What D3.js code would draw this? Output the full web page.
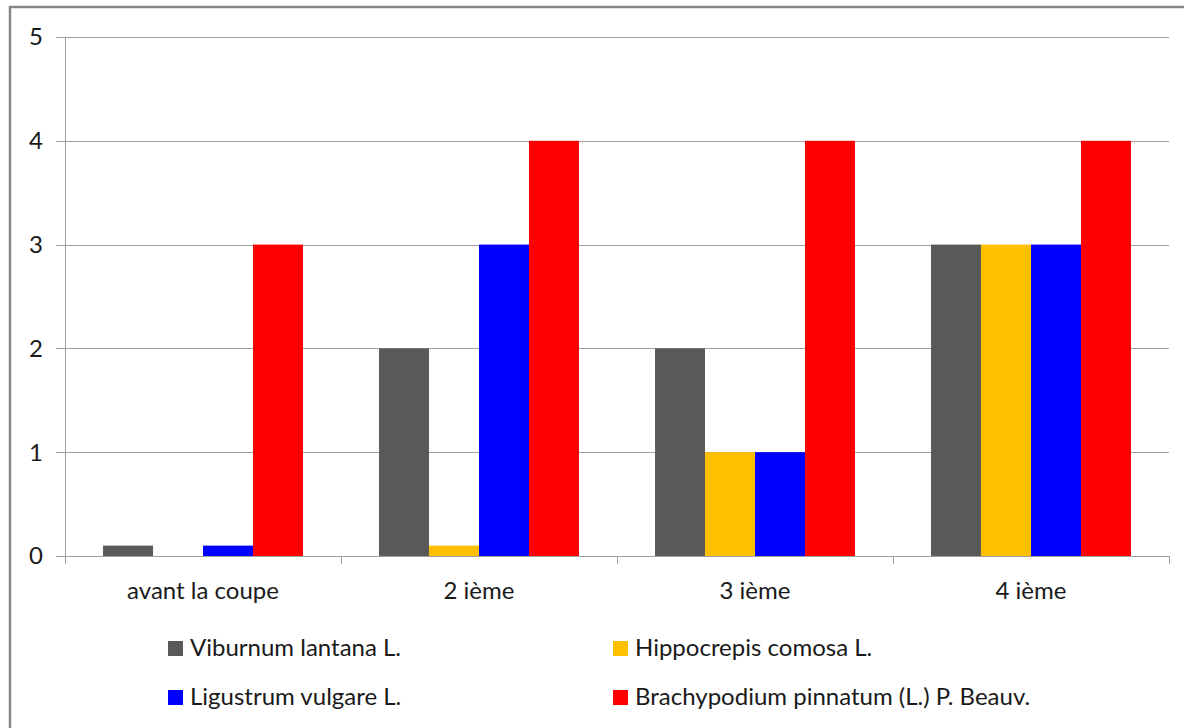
<!DOCTYPE html>
<html><head><meta charset="utf-8">
<script src="https://cdn.jsdelivr.net/npm/d3@7"></script>
<style>body{margin:0;background:#fff}svg{display:block}text{font-family:Lato,"Open Sans",sans-serif;fill:#1a1a1a}</style>
</head><body><svg id="c" width="1184" height="728"></svg>
<script>
const categories = ["avant la coupe","2 ième","3 ième","4 ième"];
const seriesNames = ["Viburnum lantana L.","Hippocrepis comosa L.","Ligustrum vulgare L.","Brachypodium pinnatum (L.) P. Beauv."];
const colors = ["#595959","#FFC000","#0000FF","#FF0000"];
const viburnum = [0.1,2,2,3];
const hippocrepis = [0,0.1,1,3];
const ligustrum = [0.1,3,1,3];
const brachypodium = [3,4,4,4];
const yTicks = [0,1,2,3,4,5];
const values = [viburnum,hippocrepis,ligustrum,brachypodium];

const svg = d3.select("#c");
svg.append("rect").attr("x",10).attr("y",7).attr("width",1184).attr("height",740)
  .attr("fill","#fff").attr("stroke","#868686").attr("stroke-width",2.5);

const L=65,R=1169,T=37,B=556;
const x = d3.scaleBand().domain(categories).range([L,R]).paddingInner(0).paddingOuter(0);
const y = d3.scaleLinear().domain([0,5]).range([B,T]);
const bw = x.bandwidth();
const inner = d3.scaleBand().domain(d3.range(4)).range([bw*0.1378,bw*(1-0.1378)]).padding(0);

svg.append("g").selectAll("line").data(yTicks).join("line")
  .attr("x1",L-9).attr("x2",R).attr("y1",d=>Math.round(y(d))+0.5).attr("y2",d=>Math.round(y(d))+0.5)
  .attr("stroke","#a0a0a0").attr("stroke-width",1);
svg.append("line").attr("x1",L+0.5).attr("x2",L+0.5).attr("y1",T).attr("y2",B+1).attr("stroke","#a0a0a0");
svg.append("g").selectAll("text").data(yTicks).join("text")
  .attr("x",36).attr("y",d=>y(d)).attr("dy","0.35em").attr("text-anchor","middle")
  .style("font-size","24px").text(d=>d);

categories.forEach((c,ci)=>{
  values.forEach((s,si)=>{
    if(s[ci]<=0) return;
    svg.append("rect").attr("x",x(c)+inner(si)).attr("width",inner.bandwidth())
      .attr("y",y(s[ci])).attr("height",B-y(s[ci])).attr("fill",colors[si]);
  });
});

const bounds = categories.map(c=>x(c)).concat([R]);
svg.append("g").selectAll("line").data(bounds).join("line")
  .attr("x1",d=>Math.round(d)+0.5).attr("x2",d=>Math.round(d)+0.5).attr("y1",B).attr("y2",B+8)
  .attr("stroke","#a0a0a0");
svg.append("g").selectAll("text").data(categories).join("text")
  .attr("x",d=>x(d)+bw/2).attr("y",591).attr("dy","0.35em").attr("text-anchor","middle")
  .style("font-size","24px").text(d=>d);

const legPos = [[168,648],[613,648],[168,697],[613,697]];
seriesNames.forEach((n,i)=>{
  const [lx,ly]=legPos[i];
  svg.append("rect").attr("x",lx).attr("y",ly-7).attr("width",15).attr("height",15).attr("fill",colors[i]);
  svg.append("text").attr("x",lx+22).attr("y",ly).attr("dy","0.35em").style("font-size","24px").text(n);
});
</script></body></html>
